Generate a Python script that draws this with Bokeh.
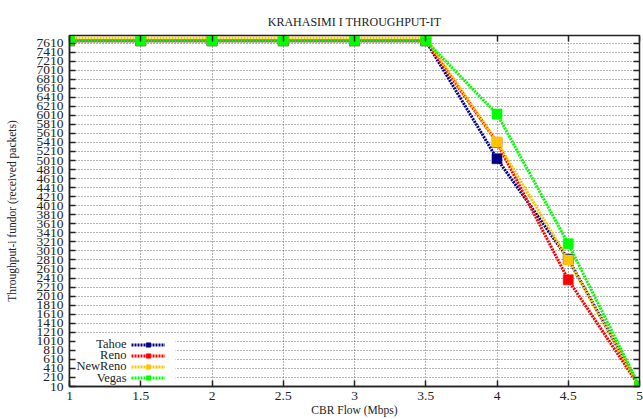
from bokeh.plotting import figure
from bokeh.models import (Range1d, FixedTicker, LinearAxis, Legend, LegendItem,
                          Label, BoxAnnotation, CustomLabelingPolicy)
from bokeh.embed import file_html
from bokeh.resources import INLINE

# CBR flow rate (Mbps) and received packets per TCP variant
cbr_flow = [1, 1.5, 2, 2.5, 3, 3.5, 4, 4.5, 5]
tahoe = [7660, 7660, 7660, 7660, 7660, 7660, 5050, 2830, 10]
reno = [7660, 7660, 7660, 7660, 7660, 7660, 5410, 2370, 10]
newreno = [7720, 7720, 7720, 7720, 7720, 7720, 5420, 2810, 10]
vegas = [7660, 7660, 7660, 7660, 7660, 7660, 6040, 3170, 10]

series_names = ["Tahoe", "Reno", "NewReno", "Vegas"]
series_values = [tahoe, reno, newreno, vegas]
series_colors = ["#00008b", "#ff0000", "#ffc400", "#00ff00"]

x_ticks = [1, 1.5, 2, 2.5, 3, 3.5, 4, 4.5, 5]
x_tick_labels = ["1", "1.5", "2", "2.5", "3", "3.5", "4", "4.5", "5"]
y_ticks = list(range(10, 7611, 200))

SERIF = "Liberation Serif"

p = figure(width=643, height=419, output_backend="svg", toolbar_location=None,
           x_range=Range1d(1, 5), y_range=Range1d(10, 7776),
           min_border_left=69, min_border_right=4, min_border_top=35,
           min_border_bottom=33,
           title="KRAHASIMI I THROUGHPUT-IT")

p.title.align = "center"
p.title.text_font = SERIF
p.title.text_font_size = "12px"
p.title.text_font_style = "normal"
p.title.text_color = "#222222"
p.title.offset = 0
p.title.standoff = 13

p.outline_line_color = "#222222"
p.outline_line_width = 1.5
p.background_fill_color = "white"
p.border_fill_color = "white"

# axes: inward ticks, serif labels
for ax in (p.xaxis[0], p.yaxis[0]):
    ax.major_tick_in = 6
    ax.major_tick_out = 0
    ax.minor_tick_in = 0
    ax.minor_tick_out = 0
    ax.axis_line_color = "#222222"
    ax.axis_line_width = 1.5
    ax.major_tick_line_color = "#222222"
    ax.major_tick_line_width = 1.5
    ax.major_label_text_font = SERIF
    ax.major_label_text_font_size = "13.5px"
    ax.major_label_text_color = "#222222"
    ax.axis_label_text_font = SERIF
    ax.axis_label_text_font_size = "11.5px"
    ax.axis_label_text_font_style = "normal"
    ax.axis_label_text_color = "#222222"

p.xaxis[0].ticker = FixedTicker(ticks=x_ticks)
p.xaxis[0].major_label_overrides = dict(zip(x_ticks, x_tick_labels))
p.xaxis[0].axis_label = "CBR Flow (Mbps)"
p.xaxis[0].major_label_standoff = 5
p.xaxis[0].axis_label_standoff = 1

p.yaxis[0].ticker = FixedTicker(ticks=y_ticks)
p.yaxis[0].axis_label = "Throughput-i fundor (received packets)"
p.yaxis[0].major_label_standoff = 6
p.yaxis[0].axis_label_standoff = 16
p.yaxis[0].axis_label_text_font_size = "11.5px"

# mirrored tick marks on the right and top edges, without labels
mirror = dict(major_tick_in=6, major_tick_out=0, minor_tick_in=0,
              minor_tick_out=0, major_label_standoff=0,
              major_label_text_font_size="0px",
              axis_line_color="#222222", major_tick_line_color="#222222",
              major_tick_line_width=1.5)
right_axis = LinearAxis(ticker=FixedTicker(ticks=y_ticks),
                        major_label_policy=CustomLabelingPolicy(code="return new Set()"),
                        **mirror)
top_axis = LinearAxis(ticker=FixedTicker(ticks=x_ticks),
                      major_label_policy=CustomLabelingPolicy(code="return new Set()"),
                      **mirror)
p.add_layout(right_axis, "right")
p.add_layout(top_axis, "above")

# dotted grid
p.xgrid.ticker = FixedTicker(ticks=x_ticks)
p.ygrid.ticker = FixedTicker(ticks=y_ticks)
for g in (p.xgrid[0], p.ygrid[0]):
    g.grid_line_color = "#444444"
    g.grid_line_dash = "1 2"
    g.grid_line_width = 1
    g.grid_line_alpha = 0.8

# white key background over the grid
key_box = BoxAnnotation(left=0, right=106, top=50, bottom=2,
                        left_units="screen", right_units="screen",
                        top_units="screen", bottom_units="screen",
                        fill_color="white", fill_alpha=1.0, line_alpha=0,
                        level="underlay")
p.add_layout(key_box)

items = []
for name, vals, col in zip(series_names, series_values, series_colors):
    ln = p.line(cbr_flow, vals, line_color=col, line_width=3, line_dash="2 1")
    mk = p.scatter(cbr_flow, vals, marker="square", size=10, fill_color=col,
                   line_color=col, line_alpha=0.6)
    items.append(LegendItem(label="", renderers=[ln, mk]))

legend = Legend(items=items, location=(62, 3), glyph_width=34, glyph_height=11,
                label_height=11, label_width=0, label_standoff=0, spacing=0,
                padding=0, margin=0, border_line_alpha=0,
                background_fill_alpha=0, label_text_font_size="1px")
p.add_layout(legend)

# key labels to the left of the samples
for i, name in enumerate(series_names):
    p.add_layout(Label(x=57, y=9 + 11.3 * (len(series_names) - 1 - i),
                       x_units="screen", y_units="screen", text=name,
                       text_align="right", text_baseline="middle",
                       text_font=SERIF, text_font_size="12.5px",
                       text_color="#222222"))

open("out.html", "w").write(file_html(p, INLINE))
